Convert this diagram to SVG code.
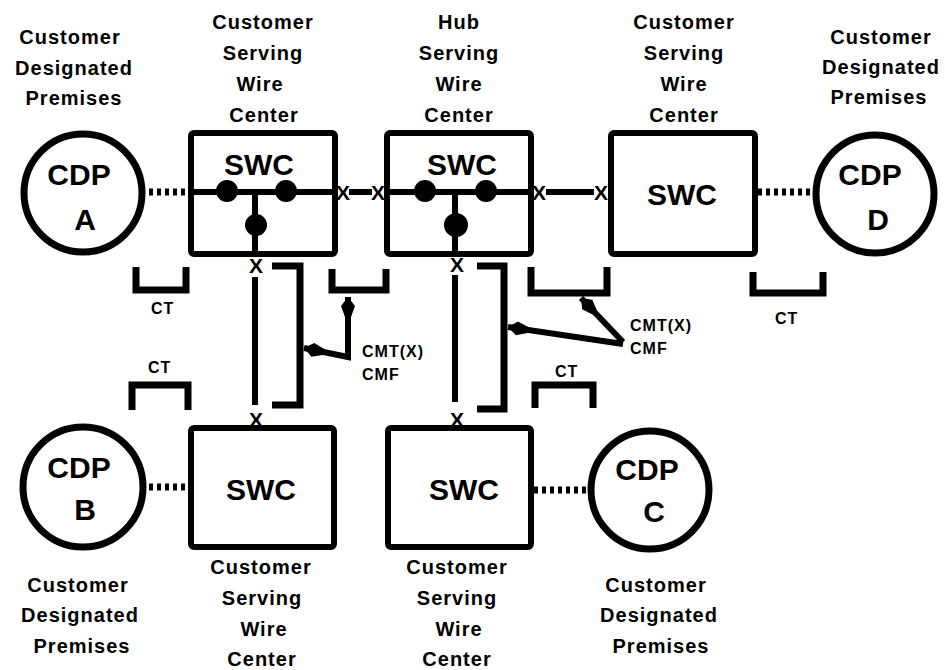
<svg xmlns="http://www.w3.org/2000/svg" width="945" height="670" viewBox="0 0 945 670">
<defs>
<style>
.lbl{font-family:"Liberation Sans",Arial,sans-serif;font-weight:bold;font-size:20px;letter-spacing:1px;fill:#000;text-anchor:middle}
.big{font-family:"Liberation Sans",Arial,sans-serif;font-weight:bold;font-size:30px;fill:#000;text-anchor:middle}
.sm{font-family:"Liberation Sans",Arial,sans-serif;font-weight:bold;font-size:16px;letter-spacing:1px;fill:#000}
.x{font-family:"Liberation Sans",Arial,sans-serif;font-weight:bold;font-size:21px;fill:#000;text-anchor:middle}
.box{fill:#fff;stroke:#000;stroke-width:6;stroke-linejoin:round}
.cir{fill:#fff;stroke:#000;stroke-width:7}
.ln{fill:none;stroke:#000;stroke-width:6}
.dot{fill:none;stroke:#000;stroke-width:7;stroke-dasharray:4 4}
.br{fill:none;stroke:#000;stroke-width:7;stroke-linejoin:miter}
.arr{fill:none;stroke:#000;stroke-width:6;stroke-linejoin:miter}
</style>
<marker id="ah" viewBox="-20 -8 22 16" refX="0" refY="0" markerWidth="22" markerHeight="16" markerUnits="userSpaceOnUse" orient="auto-start-reverse">
<path d="M0,0 L-9,-7 L-20,-3 L-20,3 L-9,7 Z" fill="#000"/>
</marker>
</defs>
<rect width="945" height="670" fill="#fff"/>

<g id="labels">
<text class="lbl" x="70" y="44">Customer</text>
<text class="lbl" x="74" y="75">Designated</text>
<text class="lbl" x="74" y="105">Premises</text>
<text class="lbl" x="263" y="29">Customer</text>
<text class="lbl" x="263" y="60">Serving</text>
<text class="lbl" x="260" y="91">Wire</text>
<text class="lbl" x="264" y="122">Center</text>
<text class="lbl" x="459" y="29">Hub</text>
<text class="lbl" x="459" y="60">Serving</text>
<text class="lbl" x="459" y="91">Wire</text>
<text class="lbl" x="459" y="122">Center</text>
<text class="lbl" x="684" y="29">Customer</text>
<text class="lbl" x="684" y="60">Serving</text>
<text class="lbl" x="684" y="91">Wire</text>
<text class="lbl" x="684" y="122">Center</text>
<text class="lbl" x="881" y="44">Customer</text>
<text class="lbl" x="881" y="74">Designated</text>
<text class="lbl" x="879" y="104">Premises</text>
<text class="lbl" x="78" y="592">Customer</text>
<text class="lbl" x="80" y="622">Designated</text>
<text class="lbl" x="82" y="653">Premises</text>
<text class="lbl" x="261" y="574">Customer</text>
<text class="lbl" x="262" y="605">Serving</text>
<text class="lbl" x="264" y="636">Wire</text>
<text class="lbl" x="262" y="666">Center</text>
<text class="lbl" x="457" y="574">Customer</text>
<text class="lbl" x="457" y="605">Serving</text>
<text class="lbl" x="459" y="636">Wire</text>
<text class="lbl" x="457" y="666">Center</text>
<text class="lbl" x="656" y="592">Customer</text>
<text class="lbl" x="659" y="622">Designated</text>
<text class="lbl" x="661" y="653">Premises</text>
</g>

<g id="connectors">
<line class="dot" x1="149" y1="192" x2="188" y2="192"/>
<line class="dot" x1="758" y1="192" x2="810" y2="192"/>
<line class="dot" x1="149" y1="487" x2="188" y2="487"/>
<line class="dot" x1="534" y1="490" x2="586" y2="490"/>
<line class="ln" x1="349" y1="192" x2="372" y2="192"/>
<line class="ln" x1="546" y1="192" x2="594" y2="192"/>
<line class="ln" x1="255" y1="277" x2="255" y2="405"/>
<line class="ln" x1="455" y1="275" x2="455" y2="402"/>
<text class="x" x="343" y="200">X</text>
<text class="x" x="378" y="200">X</text>
<text class="x" x="539" y="200">X</text>
<text class="x" x="601" y="200">X</text>
<text class="x" x="256" y="273">X</text>
<text class="x" x="256" y="427">X</text>
<text class="x" x="457" y="272">X</text>
<text class="x" x="457" y="427">X</text>
</g>

<g id="brackets">
<path class="br" d="M272,266 H300 V405 H272"/>
<path class="br" d="M477,266 H504 V409 H477"/>
<path class="br" d="M136,267 V290 H186 V267"/>
<path class="br" d="M332,269 V290 H386 V269"/>
<path class="br" d="M531,267 V293 H607 V267"/>
<path class="br" d="M753,272 V293 H823 V272"/>
<path class="br" d="M132,410 V385 H188 V410"/>
<path class="br" d="M535,408 V385 H593 V408"/>
<text class="sm" x="151" y="314">CT</text>
<text class="sm" x="148" y="373">CT</text>
<text class="sm" x="555" y="377">CT</text>
<text class="sm" x="775" y="324">CT</text>
</g>

<g id="cmt-left">
<path class="arr" d="M348,297 L348,357 L304,348" marker-start="url(#ah)" marker-end="url(#ah)"/>
<text class="sm" x="362" y="357">CMT(X)</text>
<text class="sm" x="362" y="380">CMF</text>
</g>

<g id="cmt-right">
<path class="arr" d="M623,342 L581,298" marker-end="url(#ah)"/>
<path class="arr" d="M623,344 L508,327" marker-end="url(#ah)"/>
<text class="sm" x="630" y="331">CMT(X)</text>
<text class="sm" x="630" y="354">CMF</text>
</g>

<g id="cdpA">
<circle class="cir" cx="83" cy="193" r="59"/>
<text class="big" x="79" y="185">CDP</text>
<text class="big" x="85" y="230">A</text>
</g>
<g id="cdpD">
<circle class="cir" cx="875" cy="194" r="59"/>
<text class="big" x="870" y="185">CDP</text>
<text class="big" x="878" y="230">D</text>
</g>
<g id="cdpB">
<circle class="cir" cx="83" cy="487" r="60"/>
<text class="big" x="79" y="478">CDP</text>
<text class="big" x="85" y="520">B</text>
</g>
<g id="cdpC">
<circle class="cir" cx="650" cy="490" r="59"/>
<text class="big" x="647" y="480">CDP</text>
<text class="big" x="654" y="522">C</text>
</g>

<g id="swc1">
<rect class="box" x="191" y="133" width="144" height="121" rx="3"/>
<text class="big" x="259" y="175">SWC</text>
<line class="ln" x1="191" y1="192" x2="335" y2="192"/>
<line class="ln" x1="255" y1="192" x2="255" y2="254"/>
<circle cx="227" cy="191" r="11"/>
<circle cx="286" cy="191" r="11"/>
<circle cx="256" cy="225" r="11"/>
</g>
<g id="swcHub">
<rect class="box" x="387" y="133" width="144" height="121" rx="3"/>
<text class="big" x="462" y="175">SWC</text>
<line class="ln" x1="387" y1="192" x2="531" y2="192"/>
<line class="ln" x1="455" y1="192" x2="455" y2="254"/>
<circle cx="425" cy="191" r="11"/>
<circle cx="486" cy="191" r="11"/>
<circle cx="456" cy="225" r="12"/>
</g>
<g id="swc3">
<rect class="box" x="611" y="133" width="144" height="121" rx="3"/>
<text class="big" x="682" y="205">SWC</text>
</g>
<g id="swc4">
<rect class="box" x="191" y="428" width="143" height="119" rx="3"/>
<text class="big" x="261" y="500">SWC</text>
</g>
<g id="swc5">
<rect class="box" x="388" y="428" width="143" height="119" rx="3"/>
<text class="big" x="464" y="500">SWC</text>
</g>
</svg>
